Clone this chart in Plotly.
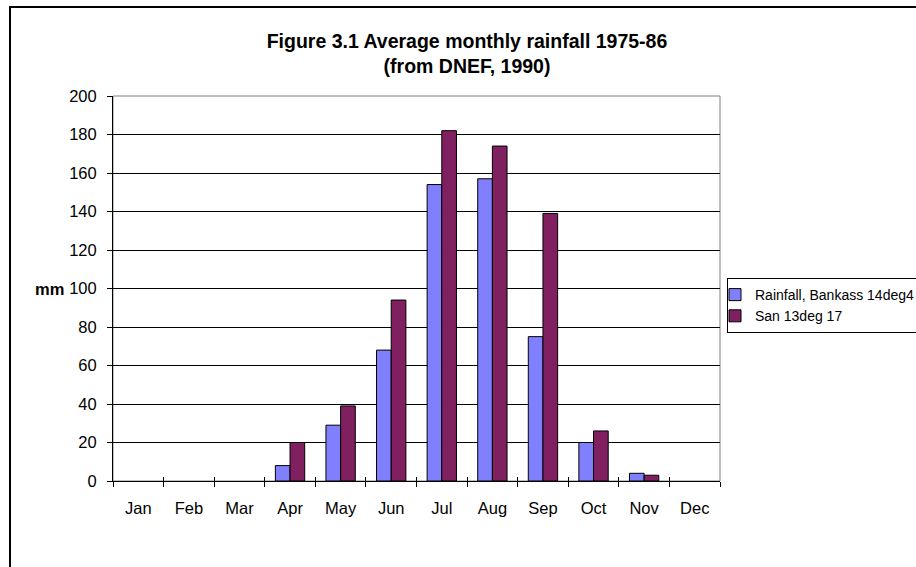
import plotly.graph_objects as go

months = ["Jan", "Feb", "Mar", "Apr", "May", "Jun", "Jul", "Aug", "Sep", "Oct", "Nov", "Dec"]
bankass = [None, None, None, 8, 29, 68, 154, 157, 75, 20, 4, None]
san = [None, None, None, 20, 39, 94, 182, 174, 139, 26, 3, None]
yticks = [0, 20, 40, 60, 80, 100, 120, 140, 160, 180, 200]

FONT = "Liberation Sans, Arial, sans-serif"
W, H = 916, 567
L, R, T, B = 113, 196, 96, 86
pw = W - L - R
ph = H - T - B

def px_x(x):
    return (x - L) / pw

def px_y(y):
    return (H - B - y) / ph

fig = go.Figure()
fig.add_trace(go.Bar(x=months, y=bankass, name="Rainfall, Bankass 14deg4",
                     marker=dict(color="#8080FF", line=dict(color="black", width=1))))
fig.add_trace(go.Bar(x=months, y=san, name="San 13deg 17",
                     marker=dict(color="#802060", line=dict(color="black", width=1))))

# boundary ticks that cross the x axis (inside part)
fig.add_trace(go.Scatter(x=[None], y=[None], xaxis="x2", showlegend=False, hoverinfo="skip"))

fig.update_layout(
    width=W, height=H,
    margin=dict(l=L, r=R, t=T, b=B, autoexpand=False),
    paper_bgcolor="white", plot_bgcolor="white",
    font=dict(family=FONT, size=16.5, color="black"),
    title=dict(text="<b>Figure 3.1 Average monthly rainfall 1975-86<br>(from DNEF, 1990)</b>",
               x=467 / W, xref="container", xanchor="center",
               y=1 - 48 / H, yref="container", yanchor="top",
               font=dict(family=FONT, size=19.5, color="black")),
    barmode="group", bargap=0.42, bargroupgap=0,
    xaxis=dict(type="category", categoryorder="array", categoryarray=months,
               showline=True, linecolor="black", linewidth=1,
               ticks="outside", ticklen=5, tickcolor="black", tickson="boundaries",
               showgrid=False, ticklabelstandoff=12, range=[-0.5, 11.5],
               tickfont=dict(size=16.5)),
    xaxis2=dict(overlaying="x", range=[-0.5, 11.5], tickmode="array",
                tickvals=[i + 0.5 for i in range(-1, 12)], ticks="inside", ticklen=4,
                tickcolor="black", showticklabels=False, showgrid=False, zeroline=False,
                showline=False, anchor="y", side="bottom"),
    yaxis=dict(range=[0, 200], tickmode="array", tickvals=yticks,
               showline=True, linecolor="black", linewidth=1,
               ticks="outside", ticklen=5, tickcolor="black",
               showgrid=True, gridcolor="black", gridwidth=1, zeroline=False,
               ticklabelstandoff=7, tickfont=dict(size=16.5)),
    legend=dict(x=px_x(727), y=px_y(278), xanchor="left", yanchor="top",
                bordercolor="black", borderwidth=1, bgcolor="white",
                font=dict(family=FONT, size=14, color="black"),
                itemwidth=30, indentation=-13),
    showlegend=True,
)

# plot-area outline (gray)
fig.add_shape(type="rect", xref="paper", yref="paper", x0=0, x1=1, y0=0, y1=1,
              line=dict(color="#808080", width=1), layer="below")
# outer chart frame
fig.add_shape(type="rect", xref="paper", yref="paper",
              x0=px_x(10), x1=px_x(W + 20), y0=px_y(H + 20), y1=px_y(7),
              line=dict(color="black", width=2))
# y-axis title
fig.add_annotation(text="<b>mm</b>", xref="paper", yref="y", x=px_x(66), y=100,
                   xanchor="right", yanchor="middle", showarrow=False,
                   font=dict(family=FONT, size=16.5, color="black"))

fig.write_html("out.html", config={"displayModeBar": False},
               post_script="document.body.style.margin='0';document.body.style.overflow='hidden';")
